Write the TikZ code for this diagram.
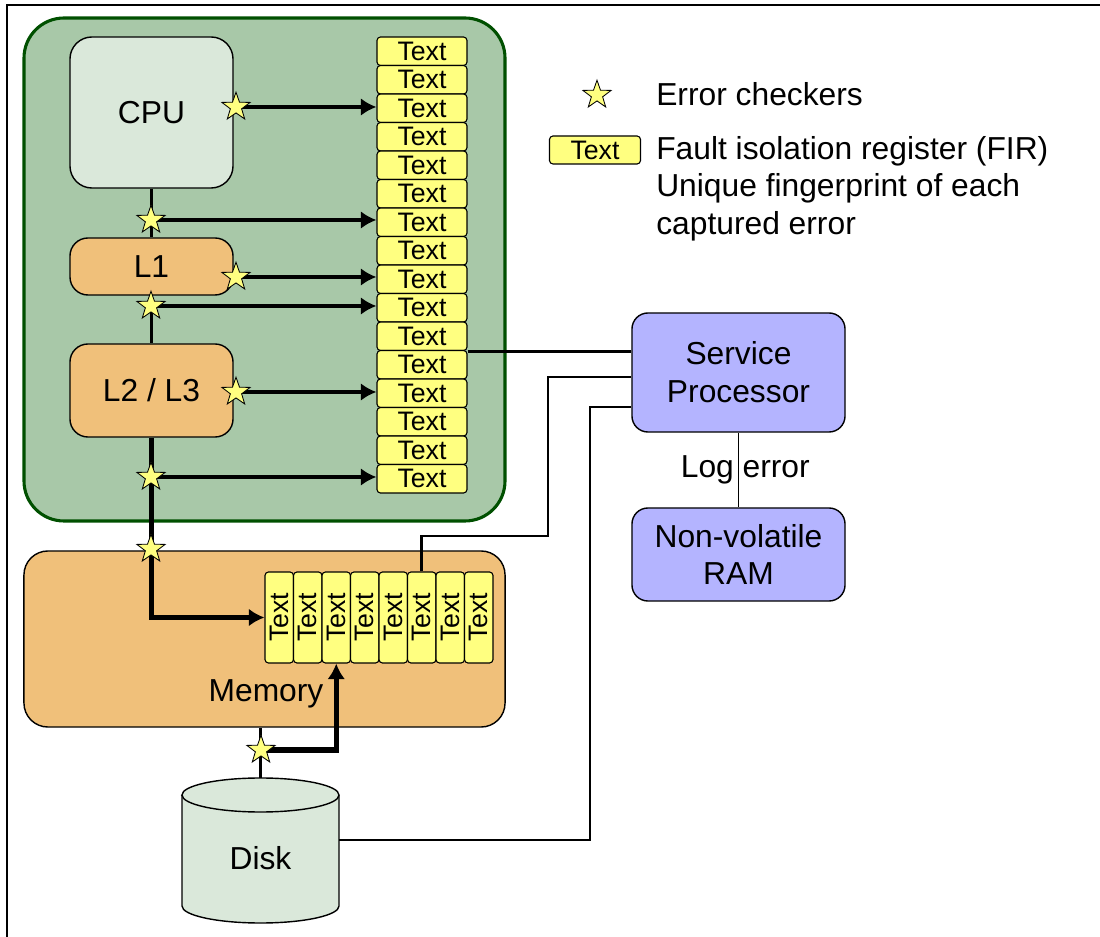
\documentclass[tikz,border=0pt]{standalone}
\usepackage{graphicx}
\usepackage{fontspec}
\setmainfont{Liberation Sans}
\usetikzlibrary{shapes.geometric,arrows.meta}
\definecolor{chipgreen}{RGB}{168,200,168}
\definecolor{chipedge}{RGB}{0,80,0}
\definecolor{palegreen}{RGB}{218,232,218}
\definecolor{cacheorange}{RGB}{240,192,122}
\definecolor{firyellow}{RGB}{255,255,128}
\definecolor{splilac}{RGB}{180,180,255}
\begin{document}
\begin{tikzpicture}[x=0.025cm,y=-0.025cm,
    font=\fontsize{22.6}{27}\selectfont,
    unit/.style={draw,line width=1pt,rounded corners=0.45cm,minimum width=4.075cm,inner sep=0pt,align=center},
    fir/.style={draw,line width=0.8pt,fill=firyellow,rounded corners=2.5pt,minimum width=2.25cm,
      minimum height=0.7125cm,inner sep=0pt,font=\fontsize{19}{22}\selectfont},
    mfir/.style={fir,minimum width=0.7125cm,minimum height=2.275cm},
    checker/.style={star,star points=5,star point ratio=2.5,draw,line width=0.6pt,fill=firyellow,
      minimum size=0.74cm,inner sep=0pt},
    bus/.style={line width=2.8pt},
    feed/.style={line width=2.9pt,-{Latex[length=11pt,width=12.5pt]}},
    splink/.style={line width=2.1pt},
    keytext/.style={anchor=base west,inner sep=0pt}]
    \useasboundingbox (0,0) rectangle (1100,937);
    \draw[line width=0.8pt] (7,937) -- (7,5) -- (1100,5);
    % processor chip and memory card
    \draw[line width=2.2pt,draw=chipedge,fill=chipgreen,rounded corners=1cm] (24,18) rectangle (505,521);
    \node[unit,fill=cacheorange,minimum width=12.025cm,minimum height=4.4cm,rounded corners=0.6cm] (mem) at (264.5,639) {};
    \node[anchor=base] (memlbl) at (266,702) {Memory};
    \node[unit,fill=palegreen,minimum height=3.775cm,rounded corners=0.55cm] (cpu) at (151.5,112.5) {CPU};
    \node[unit,fill=cacheorange,minimum height=1.425cm] (l1) at (151.5,266.5) {L1};
    \node[unit,fill=cacheorange,minimum height=2.325cm] (l2) at (151.5,390.5) {L2 / L3};
    \foreach \i in {1,...,16}
      \node[fir] (fir\i) at (422,{37+(\i-0.5)*28.5}) {Text};
    \foreach \i in {1,...,8}
      \node[mfir] (mfir\i) at ({265+(\i-0.5)*28.5},617.5) {\rotatebox{90}{Text}};
    % service processor side
    \node[unit,fill=splilac,minimum width=5.325cm,minimum height=2.975cm,rounded corners=0.4cm] (sp) at (738.5,372.5) {Service\\Processor};
    \node[unit,fill=splilac,minimum width=5.325cm,minimum height=2.325cm,rounded corners=0.4cm] (nvram) at (738.5,554.5) {Non-volatile\\RAM};
    % disk
    \draw[line width=1pt,fill=palegreen] (182,795) -- (182,906)
      arc[start angle=180,end angle=360,x radius=1.9625cm,y radius=0.425cm] -- (339,795)
      arc[start angle=0,end angle=180,x radius=1.9625cm,y radius=0.425cm] -- cycle;
    \draw[line width=1pt] (182,795) arc[start angle=180,end angle=360,x radius=1.9625cm,y radius=0.425cm];
    \node[minimum width=3.925cm,minimum height=4cm,inner sep=0pt] (disk) at (260.5,858) {Disk};
    % checker points
    \coordinate (ckcpu) at (236,107);
    \coordinate (ckbus1) at (151,220);
    \coordinate (ckl1) at (236,277);
    \coordinate (ckbus2) at (151,306);
    \coordinate (ckl2) at (236,392);
    \coordinate (ckbus3) at (151,477);
    \coordinate (ckmem) at (151,549);
    \coordinate (ckdisk) at (261,750);
    % connectors
    \draw[bus] (cpu.south) -- (l1.north);
    \draw[bus] (l1.south) -- (l2.north);
    \draw[feed,line width=3pt] (l2.south) |- (mfir1.west);
    \draw[feed] (ckcpu) -- (ckcpu -| fir3.west);
    \draw[feed] (ckbus1) -- (ckbus1 -| fir7.west);
    \draw[feed] (ckl1) -- (ckl1 -| fir9.west);
    \draw[feed] (ckbus2) -- (ckbus2 -| fir10.west);
    \draw[feed] (ckl2) -- (ckl2 -| fir13.west);
    \draw[feed] (ckbus3) -- (ckbus3 -| fir16.west);
    \draw[bus] (disk.north) -- (disk.north |- mem.south);
    \draw[feed,line width=3.6pt] (ckdisk) -| (mfir3.south);
    \draw[splink] (fir11.south east) -- (fir11.south east -| sp.west);
    \draw[splink] (mfir6.north) |- (548,536) |- (sp.west |- 0,377);
    \draw[splink] (disk.east |- 0,840) -| (590,407) -- (sp.west |- 0,407);
    \draw[line width=1.4pt] (sp.south) -- (nvram.north) node[midway,xshift=0.17cm] (logerr) {Log error};
    \foreach \c in {ckcpu,ckbus1,ckl1,ckbus2,ckl2,ckbus3,ckmem,ckdisk}
      \node[checker] (s-\c) at (\c) {};
    % key
    \node[checker] (keystar) at (597,95) {};
    \node[keytext] (keystartxt) at (656,106) {Error checkers};
    \node[fir,minimum width=2.275cm,minimum height=0.7cm] (keyfir) at (595,150) {Text};
    \node[keytext] (keyfirtxt) at (656,160) {Fault isolation register (FIR)};
    \node[keytext] (keyfp1) at (656,197) {Unique fingerprint of each};
    \node[keytext] (keyfp2) at (656,235) {captured error};
\end{tikzpicture}
\end{document}
